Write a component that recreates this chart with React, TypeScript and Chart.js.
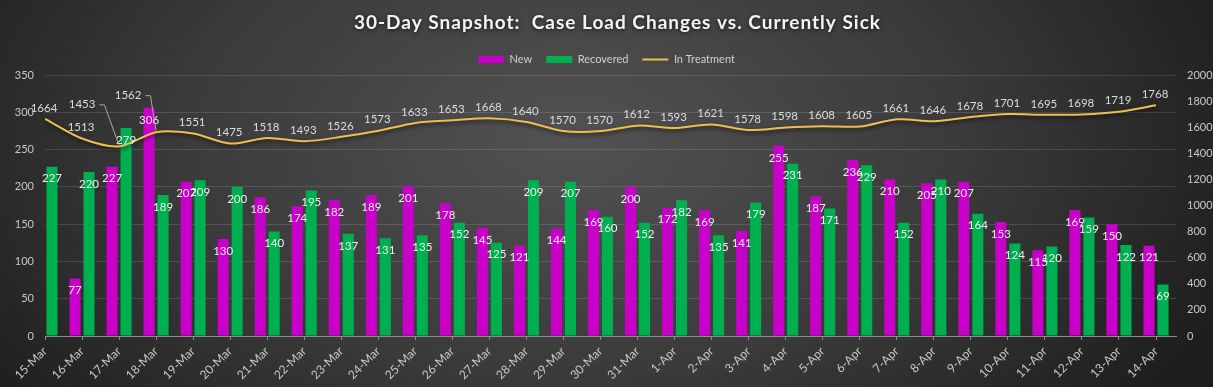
import React, { useEffect, useRef } from "react";
import { Chart, registerables } from "chart.js";

Chart.register(...registerables);

const TITLE = "30-Day Snapshot:  Case Load Changes vs. Currently Sick";
const SERIES_NAMES = ["New", "Recovered", "In Treatment"];

const categories = [
  "15-Mar", "16-Mar", "17-Mar", "18-Mar", "19-Mar", "20-Mar", "21-Mar", "22-Mar",
  "23-Mar", "24-Mar", "25-Mar", "26-Mar", "27-Mar", "28-Mar", "29-Mar", "30-Mar",
  "31-Mar", "1-Apr", "2-Apr", "3-Apr", "4-Apr", "5-Apr", "6-Apr", "7-Apr",
  "8-Apr", "9-Apr", "10-Apr", "11-Apr", "12-Apr", "13-Apr", "14-Apr",
];

const newCases: (number | null)[] = [
  null, 77, 227, 306, 207, 130, 186, 174, 182, 189, 201, 178, 145, 121, 144, 169,
  200, 172, 169, 141, 255, 187, 236, 210, 205, 207, 153, 115, 169, 150, 121,
];

const recovered: number[] = [
  227, 220, 279, 189, 209, 200, 140, 195, 137, 131, 135, 152, 125, 209, 207, 160,
  152, 182, 135, 179, 231, 171, 229, 152, 210, 164, 124, 120, 159, 122, 69,
];

const inTreatment: number[] = [
  1664, 1513, 1453, 1562, 1551, 1475, 1518, 1493, 1526, 1573, 1633, 1653, 1668, 1640, 1570, 1570,
  1612, 1593, 1621, 1578, 1598, 1608, 1605, 1661, 1646, 1678, 1701, 1695, 1698, 1719, 1768,
];

const LEFT_MAX = 350;
const LEFT_STEP = 50;
const RIGHT_MAX = 2000;
const RIGHT_STEP = 200;

export default function App() {
  const ref = useRef<HTMLCanvasElement>(null);

  useEffect(() => {
    document.body.style.margin = "0";
    const canvas = ref.current;
    if (!canvas) return;

    const FONT = "Lato, 'Open Sans', sans-serif";
    const MAGENTA = "#C900C9";
    const GREEN = "#00B050";
    const GOLD = "#EDBF4F";
    const AXIS_TEXT = "#c8c8c8";

    // label nudges for line labels that were moved (with leader lines)
    const LINE_LABEL_NUDGE: Record<number, [number, number]> = { 2: [-37, -42], 3: [-28, -37] };

    const bgPlugin = {
      id: "bg",
      beforeDraw(chart: any) {
        const { ctx, width, height } = chart;
        ctx.save();
        ctx.fillStyle = "#1c1c1c";
        ctx.fillRect(0, 0, width, height);
        ctx.translate(570, 140);
        ctx.scale(1, 0.6);
        const g = ctx.createRadialGradient(0, 0, 0, 0, 0, 720);
        g.addColorStop(0, "#525252");
        g.addColorStop(0.55, "#3a3a3a");
        g.addColorStop(1, "#1d1d1d");
        ctx.fillStyle = g;
        ctx.fillRect(-800, -800, 1800, 1600);
        ctx.restore();
      },
    };

    const titlePlugin = {
      id: "spacedTitle",
      afterDraw(chart: any) {
        const ctx = chart.ctx;
        ctx.save();
        ctx.font = `bold 19px ${FONT}`;
        (ctx as any).letterSpacing = "1px";
        ctx.fillStyle = "#f4f4f4";
        ctx.textAlign = "center";
        ctx.textBaseline = "middle";
        ctx.shadowColor = "rgba(0,0,0,0.7)";
        ctx.shadowBlur = 4;
        ctx.shadowOffsetY = 1;
        ctx.fillText(TITLE, chart.width / 2 + 11, 23);
        ctx.restore();
      },
    };

    const shadowPlugin = {
      id: "lineShadow",
      beforeDatasetDraw(chart: any, args: any) {
        if (args.index === 2) {
          const ctx = chart.ctx;
          ctx.save();
          ctx.shadowColor = "rgba(0,0,0,0.65)";
          ctx.shadowBlur = 4;
          ctx.shadowOffsetY = 2;
        }
      },
      afterDatasetDraw(chart: any, args: any) {
        if (args.index === 2) chart.ctx.restore();
      },
    };

    const labelPlugin = {
      id: "valueLabels",
      afterDatasetsDraw(chart: any) {
        const ctx = chart.ctx;
        ctx.save();
        ctx.font = `11.5px ${FONT}`;
        ctx.textAlign = "center";
        ctx.textBaseline = "middle";
        [0, 1].forEach((di) => {
          const meta = chart.getDatasetMeta(di);
          const data = chart.data.datasets[di].data as any[];
          meta.data.forEach((el: any, i: number) => {
            const v = data[i].y;
            if (v == null) return;
            ctx.fillStyle = di === 0 ? "#f6e6f6" : "#eaf5ee";
            ctx.fillText(String(v), el.x, el.y + 12);
          });
        });
        const lmeta = chart.getDatasetMeta(2);
        const ldata = chart.data.datasets[2].data as any[];
        lmeta.data.forEach((el: any, i: number) => {
          const v = ldata[i].y;
          const text = String(v);
          const nudge = LINE_LABEL_NUDGE[i];
          ctx.fillStyle = "#dcdcdc";
          if (nudge) {
            const lx = el.x + nudge[0];
            const ly = el.y + nudge[1];
            ctx.fillText(text, lx, ly);
            const w = ctx.measureText(text).width;
            ctx.strokeStyle = "#a8a8a8";
            ctx.lineWidth = 1;
            ctx.beginPath();
            ctx.moveTo(lx + w / 2 + 4, ly + 0.5);
            ctx.lineTo(lx + w / 2 + 9, ly + 0.5);
            ctx.lineTo(el.x, el.y - 1);
            ctx.stroke();
          } else {
            ctx.fillText(text, el.x - 1, el.y - 11);
          }
        });
        ctx.restore();
      },
    };

    const chart = new Chart(canvas, {
      type: "bar",
      data: {
        datasets: [
          {
            type: "bar",
            label: SERIES_NAMES[0],
            data: categories.map((_, i) => ({ x: i, y: newCases[i] })) as any,
            backgroundColor: MAGENTA,
            xAxisID: "x",
            yAxisID: "y",
            barPercentage: 0.79,
            categoryPercentage: 0.756,
            order: 1,
          },
          {
            type: "bar",
            label: SERIES_NAMES[1],
            data: categories.map((_, i) => ({ x: i, y: recovered[i] })) as any,
            backgroundColor: GREEN,
            xAxisID: "x",
            yAxisID: "y",
            barPercentage: 0.79,
            categoryPercentage: 0.756,
            order: 1,
          },
          {
            type: "line",
            label: SERIES_NAMES[2],
            data: categories.map((_, i) => ({ x: i, y: inTreatment[i] })) as any,
            borderColor: GOLD,
            backgroundColor: GOLD,
            borderWidth: 2,
            pointRadius: 0,
            tension: 0.3,
            xAxisID: "x",
            yAxisID: "y1",
            order: 0,
          } as any,
        ],
      },
      options: {
        responsive: false,
        animation: false,
        layout: { padding: { top: 40, left: 0, right: 0, bottom: 0 } },
        plugins: {
          title: { display: false },
          tooltip: { enabled: false },
          legend: {
            display: true,
            position: "top",
            labels: {
              usePointStyle: true,
              pointStyleWidth: 26,
              boxHeight: 7,
              padding: 14,
              color: "#d0d0d0",
              font: { size: 11, family: FONT },
              generateLabels: () => [
                { text: SERIES_NAMES[0], fillStyle: MAGENTA, strokeStyle: MAGENTA, lineWidth: 0, pointStyle: "rect", datasetIndex: 0, hidden: false, fontColor: "#d0d0d0" },
                { text: SERIES_NAMES[1], fillStyle: GREEN, strokeStyle: GREEN, lineWidth: 0, pointStyle: "rect", datasetIndex: 1, hidden: false, fontColor: "#d0d0d0" },
                { text: SERIES_NAMES[2], fillStyle: GOLD, strokeStyle: GOLD, lineWidth: 2, pointStyle: "line", datasetIndex: 2, hidden: false, fontColor: "#d0d0d0" },
              ] as any,
            },
          },
        },
        scales: {
          x: {
            type: "linear",
            min: 0,
            max: 30.54,
            bounds: "data",
            offset: false,
            grid: {
              offset: false,
              drawOnChartArea: false,
              drawTicks: true,
              tickLength: 4,
              tickColor: "#8c8c8c",
            },
            border: { display: true, color: "#8c8c8c", width: 1 },
            ticks: {
              stepSize: 1,
              autoSkip: false,
              includeBounds: false,
              minRotation: 45,
              maxRotation: 45,
              padding: 4,
              color: AXIS_TEXT,
              font: { size: 12, family: FONT },
              callback: (v: any) => categories[Math.round(Number(v))] ?? "",
            },
            afterFit: (s: any) => {
              s.height = 51;
            },
          } as any,
          y: {
            type: "linear",
            position: "left",
            min: 0,
            max: LEFT_MAX,
            grid: { color: "rgba(255,255,255,0.13)", drawTicks: false },
            border: { display: false },
            ticks: {
              stepSize: LEFT_STEP,
              padding: 11,
              color: AXIS_TEXT,
              font: { size: 11, family: FONT },
              callback: (v: any) => String(v),
            },
            afterFit: (s: any) => {
              s.width = 45;
            },
          },
          y1: {
            type: "linear",
            position: "right",
            min: 0,
            max: RIGHT_MAX,
            grid: { drawOnChartArea: false, drawTicks: false },
            border: { display: false },
            ticks: {
              stepSize: RIGHT_STEP,
              padding: 11,
              color: AXIS_TEXT,
              font: { size: 11, family: FONT },
              callback: (v: any) => String(v),
            },
            afterFit: (s: any) => {
              s.width = 37;
            },
          },
        },
      },
      plugins: [bgPlugin, shadowPlugin, labelPlugin, titlePlugin],
    });

    return () => chart.destroy();
  }, []);

  return (
    <div style={{ width: 1213, height: 387, position: "relative" }}>
      <canvas ref={ref} width={1213} height={387} style={{ display: "block" }} />
    </div>
  );
}
